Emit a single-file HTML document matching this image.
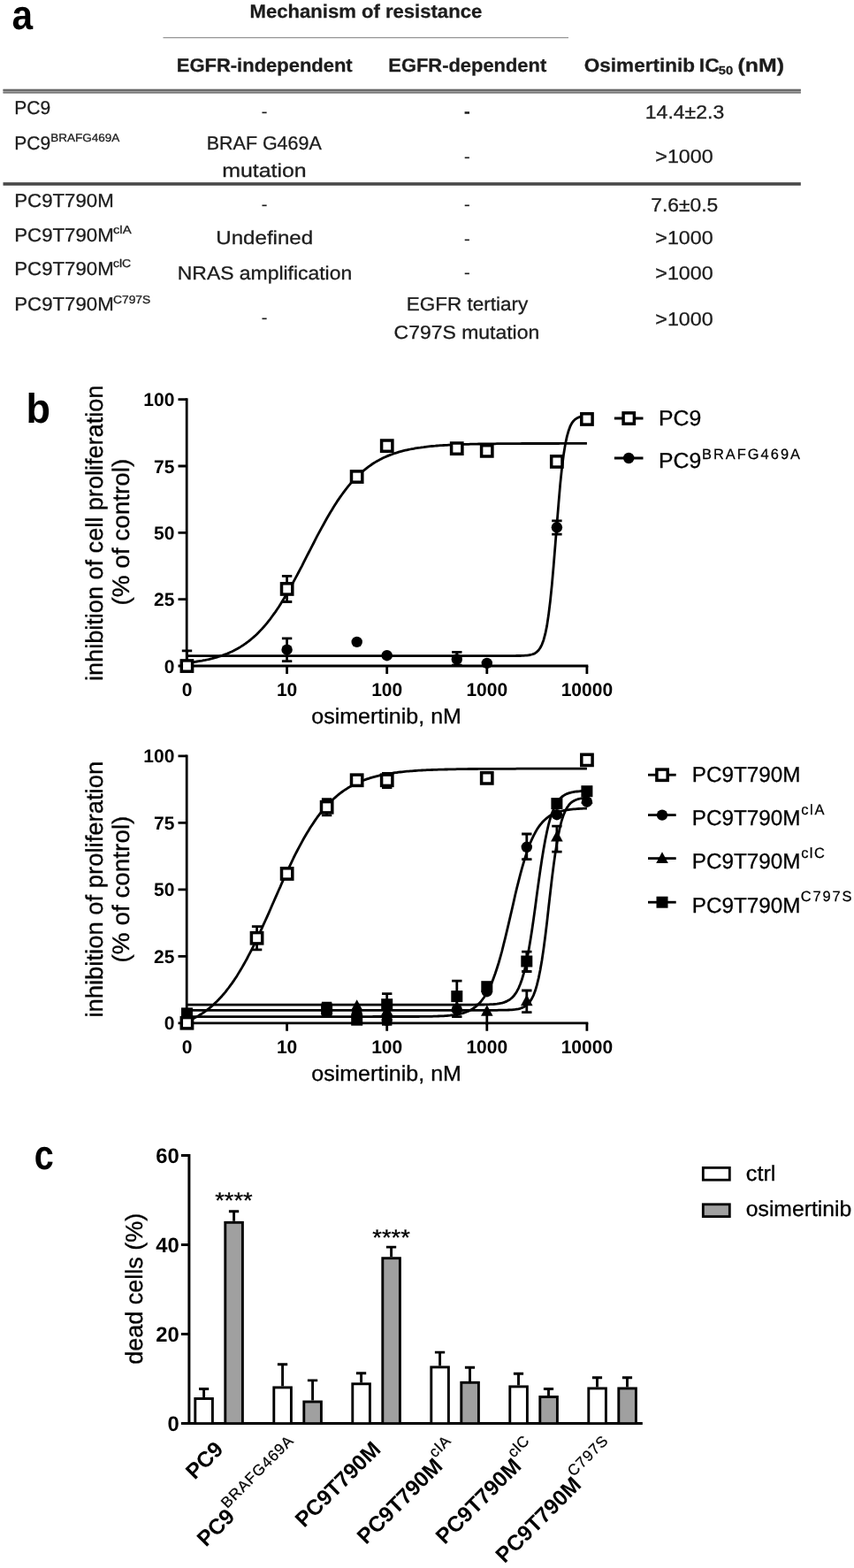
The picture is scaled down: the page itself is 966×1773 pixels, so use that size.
<!DOCTYPE html>
<html lang="en">
<head>
<meta charset="utf-8">
<title>Figure: mechanisms of osimertinib resistance</title>
<style>
html,body{margin:0;padding:0;background:#fff;}
body{width:966px;height:1773px;overflow:hidden;}
svg{display:block;}
svg text{font-family:"Liberation Sans",sans-serif;text-rendering:geometricPrecision;}
</style>
</head>
<body>
<svg width="966" height="1773" viewBox="0 0 966 1773">
<rect width="966" height="1773" fill="#fff"/>
<text x="13.60" y="33.00" font-size="47" font-weight="bold" textLength="23.60" lengthAdjust="spacingAndGlyphs">a</text>
<text x="29.60" y="477.60" font-size="47" font-weight="bold" textLength="27.50" lengthAdjust="spacingAndGlyphs">b</text>
<text x="38.80" y="1321.60" font-size="47" font-weight="bold" textLength="22.00" lengthAdjust="spacingAndGlyphs">c</text>
<g id="table" fill="#1c1c1c">
<rect x="184.5" y="42.1" width="458.5" height="1.1" fill="#8a8a8a"/>
<rect x="3.5" y="100.8" width="902.3" height="4.7" fill="#a8a8a8"/>
<rect x="3.5" y="100.8" width="902.3" height="2.1" fill="#666"/>
<rect x="3.5" y="103.9" width="902.3" height="1.6" fill="#777"/>
<rect x="3.5" y="206.2" width="902.3" height="3.6" fill="#484848"/>
<text x="282.55" y="19.50" font-size="21.3" font-weight="bold" stroke="#1c1c1c" stroke-width="0.3" textLength="262.65" lengthAdjust="spacingAndGlyphs" fill="#1c1c1c">Mechanism of resistance</text>
<text x="199.80" y="81.00" font-size="21.3" font-weight="bold" stroke="#1c1c1c" stroke-width="0.3" textLength="198.90" lengthAdjust="spacingAndGlyphs" fill="#1c1c1c">EGFR-independent</text>
<text x="439.30" y="81.00" font-size="21.3" font-weight="bold" stroke="#1c1c1c" stroke-width="0.3" textLength="178.90" lengthAdjust="spacingAndGlyphs" fill="#1c1c1c">EGFR-dependent</text>
<text x="660.80" y="81.30" font-size="21.3" font-weight="bold" stroke="#1c1c1c" stroke-width="0.3" textLength="125.20" lengthAdjust="spacingAndGlyphs" fill="#1c1c1c">Osimertinib</text>
<text x="790.80" y="81.30" font-size="21.3" font-weight="bold" stroke="#1c1c1c" stroke-width="0.3" textLength="22.80" lengthAdjust="spacingAndGlyphs" fill="#1c1c1c">IC</text>
<text x="812.80" y="83.60" font-size="13.2" font-weight="bold" stroke="#1c1c1c" stroke-width="0.25" textLength="16.40" lengthAdjust="spacingAndGlyphs" fill="#1c1c1c">50</text>
<text x="834.50" y="81.30" font-size="21.3" font-weight="bold" stroke="#1c1c1c" stroke-width="0.3" textLength="52.40" lengthAdjust="spacingAndGlyphs" fill="#1c1c1c">(nM)</text>
<text x="16.30" y="128.75" font-size="21.3" stroke="#1c1c1c" stroke-width="0.3" textLength="40.90" lengthAdjust="spacingAndGlyphs" fill="#1c1c1c">PC9</text>
<text x="16.30" y="168.75" font-size="21.3" stroke="#1c1c1c" stroke-width="0.3" textLength="40.90" lengthAdjust="spacingAndGlyphs" fill="#1c1c1c">PC9</text>
<text x="57.20" y="159.50" font-size="12.6" stroke="#1c1c1c" stroke-width="0.3" textLength="78.10" lengthAdjust="spacingAndGlyphs" fill="#1c1c1c">BRAFG469A</text>
<text x="16.30" y="233.75" font-size="21.3" stroke="#1c1c1c" stroke-width="0.3" textLength="112.40" lengthAdjust="spacingAndGlyphs" fill="#1c1c1c">PC9T790M</text>
<text x="16.30" y="272.50" font-size="21.3" stroke="#1c1c1c" stroke-width="0.3" textLength="112.40" lengthAdjust="spacingAndGlyphs" fill="#1c1c1c">PC9T790M</text>
<text x="16.30" y="310.75" font-size="21.3" stroke="#1c1c1c" stroke-width="0.3" textLength="112.40" lengthAdjust="spacingAndGlyphs" fill="#1c1c1c">PC9T790M</text>
<text x="16.30" y="351.25" font-size="21.3" stroke="#1c1c1c" stroke-width="0.3" textLength="112.40" lengthAdjust="spacingAndGlyphs" fill="#1c1c1c">PC9T790M</text>
<text x="127.90" y="263.75" font-size="12.6" stroke="#1c1c1c" stroke-width="0.3" textLength="20.70" lengthAdjust="spacingAndGlyphs" fill="#1c1c1c">clA</text>
<text x="127.90" y="302.00" font-size="12.6" stroke="#1c1c1c" stroke-width="0.3" textLength="20.20" lengthAdjust="spacingAndGlyphs" fill="#1c1c1c">clC</text>
<text x="127.95" y="342.50" font-size="12.6" stroke="#1c1c1c" stroke-width="0.3" textLength="42.35" lengthAdjust="spacingAndGlyphs" fill="#1c1c1c">C797S</text>
<text x="299.00" y="132.90" font-size="21.3" text-anchor="middle" fill="#1c1c1c">-</text>
<text x="233.80" y="168.75" font-size="21.3" stroke="#1c1c1c" stroke-width="0.3" textLength="129.90" lengthAdjust="spacingAndGlyphs" fill="#1c1c1c">BRAF G469A</text>
<text x="251.30" y="199.50" font-size="21.3" stroke="#1c1c1c" stroke-width="0.3" textLength="95.40" lengthAdjust="spacingAndGlyphs" fill="#1c1c1c">mutation</text>
<text x="299.00" y="237.90" font-size="21.3" text-anchor="middle" fill="#1c1c1c">-</text>
<text x="244.30" y="276.25" font-size="21.3" stroke="#1c1c1c" stroke-width="0.3" textLength="109.90" lengthAdjust="spacingAndGlyphs" fill="#1c1c1c">Undefined</text>
<text x="200.80" y="315.50" font-size="21.3" stroke="#1c1c1c" stroke-width="0.3" textLength="197.40" lengthAdjust="spacingAndGlyphs" fill="#1c1c1c">NRAS amplification</text>
<text x="299.00" y="366.40" font-size="21.3" text-anchor="middle" fill="#1c1c1c">-</text>
<text x="528.30" y="132.90" font-size="21.3" font-weight="bold" text-anchor="middle" fill="#1c1c1c">-</text>
<text x="528.30" y="183.65" font-size="21.3" text-anchor="middle" fill="#1c1c1c">-</text>
<text x="528.30" y="237.65" font-size="21.3" text-anchor="middle" fill="#1c1c1c">-</text>
<text x="528.30" y="276.90" font-size="21.3" text-anchor="middle" fill="#1c1c1c">-</text>
<text x="528.30" y="315.40" font-size="21.3" text-anchor="middle" fill="#1c1c1c">-</text>
<text x="459.80" y="351.25" font-size="21.3" stroke="#1c1c1c" stroke-width="0.3" textLength="137.40" lengthAdjust="spacingAndGlyphs" fill="#1c1c1c">EGFR tertiary</text>
<text x="445.55" y="382.50" font-size="21.3" stroke="#1c1c1c" stroke-width="0.3" textLength="164.65" lengthAdjust="spacingAndGlyphs" fill="#1c1c1c">C797S mutation</text>
<text x="729.80" y="133.75" font-size="21.3" stroke="#1c1c1c" stroke-width="0.3" textLength="89.40" lengthAdjust="spacingAndGlyphs" fill="#1c1c1c">14.4±2.3</text>
<text x="741.30" y="183.75" font-size="21.3" stroke="#1c1c1c" stroke-width="0.3" textLength="65.40" lengthAdjust="spacingAndGlyphs" fill="#1c1c1c">&gt;1000</text>
<text x="736.30" y="238.75" font-size="21.3" stroke="#1c1c1c" stroke-width="0.3" textLength="75.90" lengthAdjust="spacingAndGlyphs" fill="#1c1c1c">7.6±0.5</text>
<text x="741.30" y="276.25" font-size="21.3" stroke="#1c1c1c" stroke-width="0.3" textLength="65.40" lengthAdjust="spacingAndGlyphs" fill="#1c1c1c">&gt;1000</text>
<text x="741.30" y="315.50" font-size="21.3" stroke="#1c1c1c" stroke-width="0.3" textLength="65.40" lengthAdjust="spacingAndGlyphs" fill="#1c1c1c">&gt;1000</text>
<text x="741.30" y="367.50" font-size="21.3" stroke="#1c1c1c" stroke-width="0.3" textLength="65.40" lengthAdjust="spacingAndGlyphs" fill="#1c1c1c">&gt;1000</text>
</g>
<g id="chart1">
<path d="M211.2,450.3 V754.4 M211.2,753.0 H665.3" fill="none" stroke="#000" stroke-width="2.8"/>
<path d="M201.5,753.0 H211.2 M201.5,677.7 H211.2 M201.5,602.4 H211.2 M201.5,527.0 H211.2 M201.5,451.7 H211.2 M324.6,753.0 V762.0 M437.7,753.0 V762.0 M550.8,753.0 V762.0 M663.9,753.0 V762.0 " fill="none" stroke="#000" stroke-width="2.8"/>
<text x="197.40" y="760.50" font-size="21" font-weight="bold" text-anchor="end">0</text>
<text x="197.40" y="685.17" font-size="21" font-weight="bold" text-anchor="end">25</text>
<text x="197.40" y="609.85" font-size="21" font-weight="bold" text-anchor="end">50</text>
<text x="197.40" y="534.52" font-size="21" font-weight="bold" text-anchor="end">75</text>
<text x="197.40" y="459.20" font-size="21" font-weight="bold" text-anchor="end">100</text>
<text x="211.50" y="787.00" font-size="21" font-weight="bold" text-anchor="middle">0</text>
<text x="324.60" y="787.00" font-size="21" font-weight="bold" text-anchor="middle">10</text>
<text x="437.70" y="787.00" font-size="21" font-weight="bold" text-anchor="middle">100</text>
<text x="550.80" y="787.00" font-size="21" font-weight="bold" text-anchor="middle">1000</text>
<text x="663.90" y="787.00" font-size="21" font-weight="bold" text-anchor="middle">10000</text>
<text x="116.20" y="770.00" font-size="27" stroke="#000" stroke-width="0.35" textLength="334.40" lengthAdjust="spacingAndGlyphs" transform="rotate(-90 116.20 770.00)">inhibition of cell proliferation</text>
<text x="146.40" y="684.60" font-size="27" stroke="#000" stroke-width="0.35" textLength="165.80" lengthAdjust="spacingAndGlyphs" transform="rotate(-90 146.40 684.60)">(% of control)</text>
<text x="352.30" y="818.20" font-size="24.4" stroke="#000" stroke-width="0.3" textLength="169.60" lengthAdjust="spacingAndGlyphs">osimertinib, nM</text>
<path d="M211.5,749.5 L213.4,749.3 L215.3,749.0 L217.2,748.8 L219.0,748.6 L220.9,748.3 L222.8,748.0 L224.7,747.7 L226.6,747.4 L228.5,747.1 L230.3,746.7 L232.2,746.4 L234.1,746.0 L236.0,745.6 L237.9,745.1 L239.8,744.7 L241.7,744.2 L243.5,743.7 L245.4,743.1 L247.3,742.5 L249.2,741.9 L251.1,741.3 L253.0,740.6 L254.9,739.9 L256.7,739.2 L258.6,738.4 L260.5,737.5 L262.4,736.7 L264.3,735.8 L266.2,734.8 L268.1,733.8 L269.9,732.7 L271.8,731.6 L273.7,730.4 L275.6,729.2 L277.5,727.9 L279.4,726.5 L281.2,725.1 L283.1,723.6 L285.0,722.0 L286.9,720.4 L288.8,718.7 L290.7,716.9 L292.6,715.0 L294.4,713.1 L296.3,711.1 L298.2,709.0 L300.1,706.8 L302.0,704.6 L303.9,702.2 L305.8,699.8 L307.6,697.3 L309.5,694.7 L311.4,692.1 L313.3,689.3 L315.2,686.5 L317.1,683.5 L318.9,680.6 L320.8,677.5 L322.7,674.3 L324.6,671.1 L326.5,667.9 L328.4,664.5 L330.3,661.1 L332.1,657.7 L334.0,654.2 L335.9,650.6 L337.8,647.0 L339.7,643.4 L341.6,639.8 L343.4,636.1 L345.3,632.4 L347.2,628.7 L349.1,625.0 L351.0,621.3 L352.9,617.7 L354.8,614.0 L356.6,610.3 L358.5,606.7 L360.4,603.2 L362.3,599.6 L364.2,596.1 L366.1,592.7 L368.0,589.3 L369.8,586.0 L371.7,582.7 L373.6,579.5 L375.5,576.4 L377.4,573.3 L379.3,570.3 L381.1,567.4 L383.0,564.6 L384.9,561.9 L386.8,559.2 L388.7,556.6 L390.6,554.1 L392.5,551.7 L394.3,549.4 L396.2,547.2 L398.1,545.0 L400.0,542.9 L401.9,540.9 L403.8,539.0 L405.7,537.2 L407.5,535.4 L409.4,533.7 L411.3,532.1 L413.2,530.6 L415.1,529.1 L417.0,527.7 L418.9,526.3 L420.7,525.0 L422.6,523.8 L424.5,522.6 L426.4,521.5 L428.3,520.5 L430.2,519.4 L432.0,518.5 L433.9,517.6 L435.8,516.7 L437.7,515.9 L439.6,515.1 L441.5,514.4 L443.4,513.7 L445.2,513.0 L447.1,512.4 L449.0,511.8 L450.9,511.2 L452.8,510.7 L454.7,510.2 L456.5,509.7 L458.4,509.2 L460.3,508.8 L462.2,508.4 L464.1,508.0 L466.0,507.6 L467.9,507.3 L469.7,506.9 L471.6,506.6 L473.5,506.3 L475.4,506.1 L477.3,505.8 L479.2,505.6 L481.1,505.3 L482.9,505.1 L484.8,504.9 L486.7,504.7 L488.6,504.5 L490.5,504.3 L492.4,504.2 L494.2,504.0 L496.1,503.9 L498.0,503.7 L499.9,503.6 L501.8,503.5 L503.7,503.4 L505.6,503.3 L507.4,503.1 L509.3,503.1 L511.2,503.0 L513.1,502.9 L515.0,502.8 L516.9,502.7 L518.8,502.6 L520.6,502.6 L522.5,502.5 L524.4,502.4 L526.3,502.4 L528.2,502.3 L530.1,502.3 L532.0,502.2 L533.8,502.2 L535.7,502.1 L537.6,502.1 L539.5,502.1 L541.4,502.0 L543.3,502.0 L545.1,502.0 L547.0,501.9 L548.9,501.9 L550.8,501.9 L552.7,501.8 L554.6,501.8 L556.5,501.8 L558.3,501.8 L560.2,501.8 L562.1,501.7 L564.0,501.7 L565.9,501.7 L567.8,501.7 L569.6,501.7 L571.5,501.7 L573.4,501.6 L575.3,501.6 L577.2,501.6 L579.1,501.6 L581.0,501.6 L582.8,501.6 L584.7,501.6 L586.6,501.6 L588.5,501.6 L590.4,501.5 L592.3,501.5 L594.2,501.5 L596.0,501.5 L597.9,501.5 L599.8,501.5 L601.7,501.5 L603.6,501.5 L605.5,501.5 L607.3,501.5 L609.2,501.5 L611.1,501.5 L613.0,501.5 L614.9,501.5 L616.8,501.5 L618.7,501.5 L620.5,501.5 L622.4,501.5 L624.3,501.5 L626.2,501.5 L628.1,501.5 L630.0,501.5 L631.9,501.5 L633.7,501.4 L635.6,501.4 L637.5,501.4 L639.4,501.4 L641.3,501.4 L643.2,501.4 L645.0,501.4 L646.9,501.4 L648.8,501.4 L650.7,501.4 L652.6,501.4 L654.5,501.4 L656.4,501.4 L658.2,501.4 L660.1,501.4 L662.0,501.4 L663.9,501.4" fill="none" stroke="#000" stroke-width="2.8" stroke-linejoin="round"/>
<path d="M211.5,741.6 L213.4,741.6 L215.3,741.6 L217.2,741.6 L219.0,741.6 L220.9,741.6 L222.8,741.6 L224.7,741.6 L226.6,741.6 L228.5,741.6 L230.3,741.6 L232.2,741.6 L234.1,741.6 L236.0,741.6 L237.9,741.6 L239.8,741.6 L241.7,741.6 L243.5,741.6 L245.4,741.6 L247.3,741.6 L249.2,741.6 L251.1,741.6 L253.0,741.6 L254.9,741.6 L256.7,741.6 L258.6,741.6 L260.5,741.6 L262.4,741.6 L264.3,741.6 L266.2,741.6 L268.1,741.6 L269.9,741.6 L271.8,741.6 L273.7,741.6 L275.6,741.6 L277.5,741.6 L279.4,741.6 L281.2,741.6 L283.1,741.6 L285.0,741.6 L286.9,741.6 L288.8,741.6 L290.7,741.6 L292.6,741.6 L294.4,741.6 L296.3,741.6 L298.2,741.6 L300.1,741.6 L302.0,741.6 L303.9,741.6 L305.8,741.6 L307.6,741.6 L309.5,741.6 L311.4,741.6 L313.3,741.6 L315.2,741.6 L317.1,741.6 L318.9,741.6 L320.8,741.6 L322.7,741.6 L324.6,741.6 L326.5,741.6 L328.4,741.6 L330.3,741.6 L332.1,741.6 L334.0,741.6 L335.9,741.6 L337.8,741.6 L339.7,741.6 L341.6,741.6 L343.4,741.6 L345.3,741.6 L347.2,741.6 L349.1,741.6 L351.0,741.6 L352.9,741.6 L354.8,741.6 L356.6,741.6 L358.5,741.6 L360.4,741.6 L362.3,741.6 L364.2,741.6 L366.1,741.6 L368.0,741.6 L369.8,741.6 L371.7,741.6 L373.6,741.6 L375.5,741.6 L377.4,741.6 L379.3,741.6 L381.1,741.6 L383.0,741.6 L384.9,741.6 L386.8,741.6 L388.7,741.6 L390.6,741.6 L392.5,741.6 L394.3,741.6 L396.2,741.6 L398.1,741.6 L400.0,741.6 L401.9,741.6 L403.8,741.6 L405.7,741.6 L407.5,741.6 L409.4,741.6 L411.3,741.6 L413.2,741.6 L415.1,741.6 L417.0,741.6 L418.9,741.6 L420.7,741.6 L422.6,741.6 L424.5,741.6 L426.4,741.6 L428.3,741.6 L430.2,741.6 L432.0,741.6 L433.9,741.6 L435.8,741.6 L437.7,741.6 L439.6,741.6 L441.5,741.6 L443.4,741.6 L445.2,741.6 L447.1,741.6 L449.0,741.6 L450.9,741.6 L452.8,741.6 L454.7,741.6 L456.5,741.6 L458.4,741.6 L460.3,741.6 L462.2,741.6 L464.1,741.6 L466.0,741.6 L467.9,741.6 L469.7,741.6 L471.6,741.6 L473.5,741.6 L475.4,741.6 L477.3,741.6 L479.2,741.6 L481.1,741.6 L482.9,741.6 L484.8,741.6 L486.7,741.6 L488.6,741.6 L490.5,741.6 L492.4,741.6 L494.2,741.6 L496.1,741.6 L498.0,741.6 L499.9,741.6 L501.8,741.6 L503.7,741.6 L505.6,741.6 L507.4,741.6 L509.3,741.6 L511.2,741.6 L513.1,741.6 L515.0,741.6 L516.9,741.6 L518.8,741.6 L520.6,741.6 L522.5,741.6 L524.4,741.6 L526.3,741.6 L528.2,741.6 L530.1,741.6 L532.0,741.6 L533.8,741.6 L535.7,741.6 L537.6,741.6 L539.5,741.6 L541.4,741.6 L543.3,741.6 L545.1,741.6 L547.0,741.6 L548.9,741.6 L550.8,741.6 L552.7,741.6 L554.6,741.6 L556.5,741.6 L558.3,741.6 L560.2,741.6 L562.1,741.6 L564.0,741.6 L565.9,741.6 L567.8,741.6 L569.6,741.6 L571.5,741.6 L573.4,741.6 L575.3,741.6 L577.2,741.6 L579.1,741.6 L581.0,741.6 L582.8,741.6 L584.7,741.5 L586.6,741.5 L588.5,741.5 L590.4,741.4 L592.3,741.3 L594.2,741.2 L596.0,741.1 L597.9,740.8 L599.8,740.5 L601.7,740.0 L603.6,739.4 L605.5,738.4 L607.3,737.1 L609.2,735.2 L611.1,732.5 L613.0,728.8 L614.9,723.7 L616.8,716.7 L618.7,707.4 L620.5,695.3 L622.4,679.9 L624.3,661.3 L626.2,639.7 L628.1,616.2 L630.0,592.0 L631.9,568.6 L633.7,547.5 L635.6,529.2 L637.5,514.3 L639.4,502.6 L641.3,493.6 L643.2,486.9 L645.0,482.0 L646.9,478.4 L648.8,475.9 L650.7,474.1 L652.6,472.8 L654.5,471.9 L656.4,471.3 L658.2,470.8 L660.1,470.5 L662.0,470.3 L663.9,470.1" fill="none" stroke="#000" stroke-width="2.8" stroke-linejoin="round"/>
<path d="M211.5,735.8 V753.0 M205.8,735.8 H217.2" fill="none" stroke="#000" stroke-width="2.8"/>
<path d="M324.6,721.8 V747.7 M318.9,721.8 H330.3 M318.9,747.7 H330.3" fill="none" stroke="#000" stroke-width="2.8"/>
<path d="M516.8,737.3 V752.1 M511.1,737.3 H522.5 M511.1,752.1 H522.5" fill="none" stroke="#000" stroke-width="2.8"/>
<path d="M629.9,588.8 V604.2 M624.2,588.8 H635.6 M624.2,604.2 H635.6" fill="none" stroke="#000" stroke-width="2.8"/>
<circle cx="211.5" cy="753.0" r="6.2" fill="#000"/>
<circle cx="324.6" cy="734.7" r="6.2" fill="#000"/>
<circle cx="403.7" cy="725.9" r="6.2" fill="#000"/>
<circle cx="437.7" cy="741.2" r="6.2" fill="#000"/>
<circle cx="516.8" cy="745.5" r="6.2" fill="#000"/>
<circle cx="550.8" cy="749.9" r="6.2" fill="#000"/>
<circle cx="629.9" cy="596.3" r="6.2" fill="#000"/>
<path d="M324.6,651.3 V680.5 M318.9,651.3 H330.3 M318.9,680.5 H330.3" fill="none" stroke="#000" stroke-width="2.8"/>
<rect x="205.3" y="746.9" width="12.3" height="12.3" fill="#fff" stroke="#000" stroke-width="3.5"/>
<rect x="318.5" y="659.8" width="12.3" height="12.3" fill="#fff" stroke="#000" stroke-width="3.5"/>
<rect x="397.5" y="532.9" width="12.3" height="12.3" fill="#fff" stroke="#000" stroke-width="3.5"/>
<rect x="431.6" y="498.0" width="12.3" height="12.3" fill="#fff" stroke="#000" stroke-width="3.5"/>
<rect x="510.6" y="501.0" width="12.3" height="12.3" fill="#fff" stroke="#000" stroke-width="3.5"/>
<rect x="544.6" y="503.7" width="12.3" height="12.3" fill="#fff" stroke="#000" stroke-width="3.5"/>
<rect x="623.7" y="515.8" width="12.3" height="12.3" fill="#fff" stroke="#000" stroke-width="3.5"/>
<rect x="657.8" y="467.8" width="12.3" height="12.3" fill="#fff" stroke="#000" stroke-width="3.5"/>
<path d="M694.9,473.0 H727.5" stroke="#000" stroke-width="2.8"/>
<rect x="705.1" y="466.9" width="12.3" height="12.3" fill="#fff" stroke="#000" stroke-width="3.5"/>
<text x="745.00" y="480.60" font-size="24.4" stroke="#000" stroke-width="0.3" textLength="48.20" lengthAdjust="spacingAndGlyphs">PC9</text>
<path d="M694.9,518.0 H727.5" stroke="#000" stroke-width="2.8"/>
<circle cx="711.2" cy="518.0" r="6.2" fill="#000"/>
<text x="745.00" y="529.20" font-size="24.4" stroke="#000" stroke-width="0.3" textLength="48.20" lengthAdjust="spacingAndGlyphs">PC9</text>
<text x="794.00" y="518.80" font-size="16.4" stroke="#000" stroke-width="0.25" textLength="111.00" lengthAdjust="spacing">BRAFG469A</text>
</g>
<g id="chart2">
<path d="M211.2,853.4 V1158.2 M211.2,1156.8 H665.3" fill="none" stroke="#000" stroke-width="2.8"/>
<path d="M201.5,1156.8 H211.2 M201.5,1081.3 H211.2 M201.5,1005.8 H211.2 M201.5,930.3 H211.2 M201.5,854.8 H211.2 M324.6,1156.8 V1165.8 M437.7,1156.8 V1165.8 M550.8,1156.8 V1165.8 M663.9,1156.8 V1165.8 " fill="none" stroke="#000" stroke-width="2.8"/>
<text x="197.40" y="1164.30" font-size="21" font-weight="bold" text-anchor="end">0</text>
<text x="197.40" y="1088.80" font-size="21" font-weight="bold" text-anchor="end">25</text>
<text x="197.40" y="1013.30" font-size="21" font-weight="bold" text-anchor="end">50</text>
<text x="197.40" y="937.80" font-size="21" font-weight="bold" text-anchor="end">75</text>
<text x="197.40" y="862.30" font-size="21" font-weight="bold" text-anchor="end">100</text>
<text x="211.50" y="1190.80" font-size="21" font-weight="bold" text-anchor="middle">0</text>
<text x="324.60" y="1190.80" font-size="21" font-weight="bold" text-anchor="middle">10</text>
<text x="437.70" y="1190.80" font-size="21" font-weight="bold" text-anchor="middle">100</text>
<text x="550.80" y="1190.80" font-size="21" font-weight="bold" text-anchor="middle">1000</text>
<text x="663.90" y="1190.80" font-size="21" font-weight="bold" text-anchor="middle">10000</text>
<text x="116.20" y="1150.60" font-size="27" stroke="#000" stroke-width="0.35" textLength="289.80" lengthAdjust="spacingAndGlyphs" transform="rotate(-90 116.20 1150.60)">inhibition of proliferation</text>
<text x="146.40" y="1088.40" font-size="27" stroke="#000" stroke-width="0.35" textLength="165.80" lengthAdjust="spacingAndGlyphs" transform="rotate(-90 146.40 1088.40)">(% of control)</text>
<text x="352.30" y="1222.00" font-size="24.4" stroke="#000" stroke-width="0.3" textLength="169.60" lengthAdjust="spacingAndGlyphs">osimertinib, nM</text>
<path d="M211.5,1155.1 L213.4,1154.3 L215.3,1153.4 L217.2,1152.5 L219.0,1151.6 L220.9,1150.6 L222.8,1149.6 L224.7,1148.5 L226.6,1147.3 L228.5,1146.1 L230.3,1144.8 L232.2,1143.5 L234.1,1142.1 L236.0,1140.6 L237.9,1139.1 L239.8,1137.5 L241.7,1135.8 L243.5,1134.0 L245.4,1132.2 L247.3,1130.3 L249.2,1128.3 L251.1,1126.2 L253.0,1124.0 L254.9,1121.8 L256.7,1119.4 L258.6,1117.0 L260.5,1114.4 L262.4,1111.8 L264.3,1109.1 L266.2,1106.3 L268.1,1103.4 L269.9,1100.4 L271.8,1097.3 L273.7,1094.1 L275.6,1090.8 L277.5,1087.4 L279.4,1084.0 L281.2,1080.4 L283.1,1076.8 L285.0,1073.1 L286.9,1069.3 L288.8,1065.4 L290.7,1061.5 L292.6,1057.5 L294.4,1053.5 L296.3,1049.4 L298.2,1045.2 L300.1,1041.0 L302.0,1036.8 L303.9,1032.6 L305.8,1028.3 L307.6,1024.0 L309.5,1019.7 L311.4,1015.4 L313.3,1011.1 L315.2,1006.8 L317.1,1002.6 L318.9,998.3 L320.8,994.2 L322.7,990.0 L324.6,985.9 L326.5,981.8 L328.4,977.8 L330.3,973.9 L332.1,970.0 L334.0,966.2 L335.9,962.5 L337.8,958.9 L339.7,955.3 L341.6,951.8 L343.4,948.5 L345.3,945.2 L347.2,942.0 L349.1,938.9 L351.0,935.8 L352.9,932.9 L354.8,930.1 L356.6,927.4 L358.5,924.7 L360.4,922.2 L362.3,919.7 L364.2,917.4 L366.1,915.1 L368.0,912.9 L369.8,910.8 L371.7,908.8 L373.6,906.9 L375.5,905.0 L377.4,903.3 L379.3,901.6 L381.1,900.0 L383.0,898.4 L384.9,896.9 L386.8,895.5 L388.7,894.2 L390.6,892.9 L392.5,891.7 L394.3,890.5 L396.2,889.4 L398.1,888.4 L400.0,887.4 L401.9,886.4 L403.8,885.5 L405.7,884.6 L407.5,883.8 L409.4,883.0 L411.3,882.3 L413.2,881.6 L415.1,880.9 L417.0,880.3 L418.9,879.7 L420.7,879.1 L422.6,878.6 L424.5,878.1 L426.4,877.6 L428.3,877.2 L430.2,876.7 L432.0,876.3 L433.9,875.9 L435.8,875.6 L437.7,875.2 L439.6,874.9 L441.5,874.6 L443.4,874.3 L445.2,874.0 L447.1,873.7 L449.0,873.5 L450.9,873.2 L452.8,873.0 L454.7,872.8 L456.5,872.6 L458.4,872.4 L460.3,872.2 L462.2,872.1 L464.1,871.9 L466.0,871.8 L467.9,871.6 L469.7,871.5 L471.6,871.4 L473.5,871.2 L475.4,871.1 L477.3,871.0 L479.2,870.9 L481.1,870.8 L482.9,870.7 L484.8,870.6 L486.7,870.6 L488.6,870.5 L490.5,870.4 L492.4,870.3 L494.2,870.3 L496.1,870.2 L498.0,870.2 L499.9,870.1 L501.8,870.1 L503.7,870.0 L505.6,870.0 L507.4,869.9 L509.3,869.9 L511.2,869.8 L513.1,869.8 L515.0,869.8 L516.9,869.7 L518.8,869.7 L520.6,869.7 L522.5,869.6 L524.4,869.6 L526.3,869.6 L528.2,869.6 L530.1,869.5 L532.0,869.5 L533.8,869.5 L535.7,869.5 L537.6,869.5 L539.5,869.5 L541.4,869.4 L543.3,869.4 L545.1,869.4 L547.0,869.4 L548.9,869.4 L550.8,869.4 L552.7,869.4 L554.6,869.4 L556.5,869.3 L558.3,869.3 L560.2,869.3 L562.1,869.3 L564.0,869.3 L565.9,869.3 L567.8,869.3 L569.6,869.3 L571.5,869.3 L573.4,869.3 L575.3,869.3 L577.2,869.3 L579.1,869.3 L581.0,869.3 L582.8,869.3 L584.7,869.2 L586.6,869.2 L588.5,869.2 L590.4,869.2 L592.3,869.2 L594.2,869.2 L596.0,869.2 L597.9,869.2 L599.8,869.2 L601.7,869.2 L603.6,869.2 L605.5,869.2 L607.3,869.2 L609.2,869.2 L611.1,869.2 L613.0,869.2 L614.9,869.2 L616.8,869.2 L618.7,869.2 L620.5,869.2 L622.4,869.2 L624.3,869.2 L626.2,869.2 L628.1,869.2 L630.0,869.2 L631.9,869.2 L633.7,869.2 L635.6,869.2 L637.5,869.2 L639.4,869.2 L641.3,869.2 L643.2,869.2 L645.0,869.2 L646.9,869.2 L648.8,869.2 L650.7,869.2 L652.6,869.2 L654.5,869.2 L656.4,869.2 L658.2,869.2 L660.1,869.2 L662.0,869.2 L663.9,869.2" fill="none" stroke="#000" stroke-width="2.8" stroke-linejoin="round"/>
<path d="M211.5,1149.6 L213.4,1149.6 L215.3,1149.6 L217.2,1149.6 L219.0,1149.6 L220.9,1149.6 L222.8,1149.6 L224.7,1149.6 L226.6,1149.6 L228.5,1149.6 L230.3,1149.6 L232.2,1149.6 L234.1,1149.6 L236.0,1149.6 L237.9,1149.6 L239.8,1149.6 L241.7,1149.6 L243.5,1149.6 L245.4,1149.6 L247.3,1149.6 L249.2,1149.6 L251.1,1149.6 L253.0,1149.6 L254.9,1149.6 L256.7,1149.6 L258.6,1149.6 L260.5,1149.6 L262.4,1149.6 L264.3,1149.6 L266.2,1149.6 L268.1,1149.6 L269.9,1149.6 L271.8,1149.6 L273.7,1149.6 L275.6,1149.6 L277.5,1149.6 L279.4,1149.6 L281.2,1149.6 L283.1,1149.6 L285.0,1149.6 L286.9,1149.6 L288.8,1149.6 L290.7,1149.6 L292.6,1149.6 L294.4,1149.6 L296.3,1149.6 L298.2,1149.6 L300.1,1149.6 L302.0,1149.6 L303.9,1149.6 L305.8,1149.6 L307.6,1149.6 L309.5,1149.6 L311.4,1149.6 L313.3,1149.6 L315.2,1149.6 L317.1,1149.6 L318.9,1149.6 L320.8,1149.6 L322.7,1149.6 L324.6,1149.6 L326.5,1149.6 L328.4,1149.6 L330.3,1149.6 L332.1,1149.6 L334.0,1149.6 L335.9,1149.6 L337.8,1149.6 L339.7,1149.6 L341.6,1149.6 L343.4,1149.6 L345.3,1149.6 L347.2,1149.6 L349.1,1149.6 L351.0,1149.6 L352.9,1149.6 L354.8,1149.6 L356.6,1149.6 L358.5,1149.6 L360.4,1149.6 L362.3,1149.6 L364.2,1149.6 L366.1,1149.6 L368.0,1149.6 L369.8,1149.6 L371.7,1149.6 L373.6,1149.6 L375.5,1149.6 L377.4,1149.6 L379.3,1149.6 L381.1,1149.6 L383.0,1149.6 L384.9,1149.6 L386.8,1149.6 L388.7,1149.6 L390.6,1149.6 L392.5,1149.6 L394.3,1149.6 L396.2,1149.6 L398.1,1149.6 L400.0,1149.6 L401.9,1149.6 L403.8,1149.6 L405.7,1149.6 L407.5,1149.6 L409.4,1149.6 L411.3,1149.6 L413.2,1149.6 L415.1,1149.6 L417.0,1149.6 L418.9,1149.6 L420.7,1149.6 L422.6,1149.5 L424.5,1149.5 L426.4,1149.5 L428.3,1149.5 L430.2,1149.5 L432.0,1149.5 L433.9,1149.5 L435.8,1149.5 L437.7,1149.5 L439.6,1149.5 L441.5,1149.5 L443.4,1149.5 L445.2,1149.5 L447.1,1149.5 L449.0,1149.5 L450.9,1149.5 L452.8,1149.5 L454.7,1149.5 L456.5,1149.5 L458.4,1149.5 L460.3,1149.5 L462.2,1149.5 L464.1,1149.5 L466.0,1149.5 L467.9,1149.5 L469.7,1149.5 L471.6,1149.5 L473.5,1149.5 L475.4,1149.4 L477.3,1149.4 L479.2,1149.4 L481.1,1149.4 L482.9,1149.4 L484.8,1149.3 L486.7,1149.3 L488.6,1149.3 L490.5,1149.2 L492.4,1149.2 L494.2,1149.1 L496.1,1149.0 L498.0,1148.9 L499.9,1148.9 L501.8,1148.8 L503.7,1148.6 L505.6,1148.5 L507.4,1148.3 L509.3,1148.2 L511.2,1147.9 L513.1,1147.7 L515.0,1147.4 L516.9,1147.1 L518.8,1146.8 L520.6,1146.3 L522.5,1145.9 L524.4,1145.3 L526.3,1144.7 L528.2,1144.0 L530.1,1143.2 L532.0,1142.2 L533.8,1141.2 L535.7,1140.0 L537.6,1138.6 L539.5,1137.1 L541.4,1135.3 L543.3,1133.3 L545.1,1131.0 L547.0,1128.5 L548.9,1125.7 L550.8,1122.5 L552.7,1118.9 L554.6,1115.0 L556.5,1110.7 L558.3,1105.9 L560.2,1100.7 L562.1,1095.0 L564.0,1089.0 L565.9,1082.4 L567.8,1075.5 L569.6,1068.2 L571.5,1060.6 L573.4,1052.7 L575.3,1044.6 L577.2,1036.4 L579.1,1028.2 L581.0,1019.9 L582.8,1011.8 L584.7,1003.9 L586.6,996.3 L588.5,988.9 L590.4,981.9 L592.3,975.3 L594.2,969.2 L596.0,963.4 L597.9,958.2 L599.8,953.3 L601.7,948.9 L603.6,944.9 L605.5,941.3 L607.3,938.1 L609.2,935.2 L611.1,932.6 L613.0,930.3 L614.9,928.3 L616.8,926.5 L618.7,924.9 L620.5,923.5 L622.4,922.2 L624.3,921.2 L626.2,920.2 L628.1,919.4 L630.0,918.7 L631.9,918.0 L633.7,917.5 L635.6,917.0 L637.5,916.5 L639.4,916.2 L641.3,915.9 L643.2,915.6 L645.0,915.3 L646.9,915.1 L648.8,914.9 L650.7,914.8 L652.6,914.6 L654.5,914.5 L656.4,914.4 L658.2,914.3 L660.1,914.2 L662.0,914.2 L663.9,914.1" fill="none" stroke="#000" stroke-width="2.8" stroke-linejoin="round"/>
<path d="M211.5,1142.3 L213.4,1142.3 L215.3,1142.3 L217.2,1142.3 L219.0,1142.3 L220.9,1142.3 L222.8,1142.3 L224.7,1142.3 L226.6,1142.3 L228.5,1142.3 L230.3,1142.3 L232.2,1142.3 L234.1,1142.3 L236.0,1142.3 L237.9,1142.3 L239.8,1142.3 L241.7,1142.3 L243.5,1142.3 L245.4,1142.3 L247.3,1142.3 L249.2,1142.3 L251.1,1142.3 L253.0,1142.3 L254.9,1142.3 L256.7,1142.3 L258.6,1142.3 L260.5,1142.3 L262.4,1142.3 L264.3,1142.3 L266.2,1142.3 L268.1,1142.3 L269.9,1142.3 L271.8,1142.3 L273.7,1142.3 L275.6,1142.3 L277.5,1142.3 L279.4,1142.3 L281.2,1142.3 L283.1,1142.3 L285.0,1142.3 L286.9,1142.3 L288.8,1142.3 L290.7,1142.3 L292.6,1142.3 L294.4,1142.3 L296.3,1142.3 L298.2,1142.3 L300.1,1142.3 L302.0,1142.3 L303.9,1142.3 L305.8,1142.3 L307.6,1142.3 L309.5,1142.3 L311.4,1142.3 L313.3,1142.3 L315.2,1142.3 L317.1,1142.3 L318.9,1142.3 L320.8,1142.3 L322.7,1142.3 L324.6,1142.3 L326.5,1142.3 L328.4,1142.3 L330.3,1142.3 L332.1,1142.3 L334.0,1142.3 L335.9,1142.3 L337.8,1142.3 L339.7,1142.3 L341.6,1142.3 L343.4,1142.3 L345.3,1142.3 L347.2,1142.3 L349.1,1142.3 L351.0,1142.3 L352.9,1142.3 L354.8,1142.3 L356.6,1142.3 L358.5,1142.3 L360.4,1142.3 L362.3,1142.3 L364.2,1142.3 L366.1,1142.3 L368.0,1142.3 L369.8,1142.3 L371.7,1142.3 L373.6,1142.3 L375.5,1142.3 L377.4,1142.3 L379.3,1142.3 L381.1,1142.3 L383.0,1142.3 L384.9,1142.3 L386.8,1142.3 L388.7,1142.3 L390.6,1142.3 L392.5,1142.3 L394.3,1142.3 L396.2,1142.3 L398.1,1142.3 L400.0,1142.3 L401.9,1142.3 L403.8,1142.3 L405.7,1142.3 L407.5,1142.3 L409.4,1142.3 L411.3,1142.3 L413.2,1142.3 L415.1,1142.3 L417.0,1142.3 L418.9,1142.3 L420.7,1142.3 L422.6,1142.3 L424.5,1142.3 L426.4,1142.3 L428.3,1142.3 L430.2,1142.3 L432.0,1142.3 L433.9,1142.3 L435.8,1142.3 L437.7,1142.3 L439.6,1142.3 L441.5,1142.3 L443.4,1142.3 L445.2,1142.3 L447.1,1142.3 L449.0,1142.3 L450.9,1142.3 L452.8,1142.3 L454.7,1142.3 L456.5,1142.3 L458.4,1142.3 L460.3,1142.3 L462.2,1142.3 L464.1,1142.3 L466.0,1142.3 L467.9,1142.3 L469.7,1142.3 L471.6,1142.3 L473.5,1142.3 L475.4,1142.3 L477.3,1142.3 L479.2,1142.3 L481.1,1142.3 L482.9,1142.3 L484.8,1142.3 L486.7,1142.3 L488.6,1142.3 L490.5,1142.3 L492.4,1142.3 L494.2,1142.3 L496.1,1142.3 L498.0,1142.3 L499.9,1142.3 L501.8,1142.3 L503.7,1142.3 L505.6,1142.3 L507.4,1142.3 L509.3,1142.3 L511.2,1142.3 L513.1,1142.3 L515.0,1142.3 L516.9,1142.3 L518.8,1142.3 L520.6,1142.3 L522.5,1142.3 L524.4,1142.3 L526.3,1142.3 L528.2,1142.3 L530.1,1142.3 L532.0,1142.3 L533.8,1142.3 L535.7,1142.3 L537.6,1142.3 L539.5,1142.3 L541.4,1142.3 L543.3,1142.3 L545.1,1142.3 L547.0,1142.3 L548.9,1142.3 L550.8,1142.3 L552.7,1142.3 L554.6,1142.3 L556.5,1142.3 L558.3,1142.3 L560.2,1142.3 L562.1,1142.3 L564.0,1142.2 L565.9,1142.2 L567.8,1142.2 L569.6,1142.2 L571.5,1142.1 L573.4,1142.1 L575.3,1142.0 L577.2,1141.9 L579.1,1141.8 L581.0,1141.6 L582.8,1141.4 L584.7,1141.1 L586.6,1140.8 L588.5,1140.3 L590.4,1139.6 L592.3,1138.8 L594.2,1137.7 L596.0,1136.3 L597.9,1134.5 L599.8,1132.1 L601.7,1129.0 L603.6,1125.1 L605.5,1120.1 L607.3,1113.8 L609.2,1106.1 L611.1,1096.8 L613.0,1085.7 L614.9,1072.9 L616.8,1058.5 L618.7,1042.9 L620.5,1026.5 L622.4,1009.9 L624.3,993.7 L626.2,978.6 L628.1,964.9 L630.0,952.9 L631.9,942.6 L633.7,934.0 L635.6,927.0 L637.5,921.4 L639.4,916.9 L641.3,913.4 L643.2,910.7 L645.0,908.5 L646.9,906.9 L648.8,905.7 L650.7,904.7 L652.6,904.0 L654.5,903.4 L656.4,903.0 L658.2,902.6 L660.1,902.4 L662.0,902.2 L663.9,902.1" fill="none" stroke="#000" stroke-width="2.8" stroke-linejoin="round"/>
<path d="M211.5,1136.1 L213.4,1136.1 L215.3,1136.1 L217.2,1136.1 L219.0,1136.1 L220.9,1136.1 L222.8,1136.1 L224.7,1136.1 L226.6,1136.1 L228.5,1136.1 L230.3,1136.1 L232.2,1136.1 L234.1,1136.1 L236.0,1136.1 L237.9,1136.1 L239.8,1136.1 L241.7,1136.1 L243.5,1136.1 L245.4,1136.1 L247.3,1136.1 L249.2,1136.1 L251.1,1136.1 L253.0,1136.1 L254.9,1136.1 L256.7,1136.1 L258.6,1136.1 L260.5,1136.1 L262.4,1136.1 L264.3,1136.1 L266.2,1136.1 L268.1,1136.1 L269.9,1136.1 L271.8,1136.1 L273.7,1136.1 L275.6,1136.1 L277.5,1136.1 L279.4,1136.1 L281.2,1136.1 L283.1,1136.1 L285.0,1136.1 L286.9,1136.1 L288.8,1136.1 L290.7,1136.1 L292.6,1136.1 L294.4,1136.1 L296.3,1136.1 L298.2,1136.1 L300.1,1136.1 L302.0,1136.1 L303.9,1136.1 L305.8,1136.1 L307.6,1136.1 L309.5,1136.1 L311.4,1136.1 L313.3,1136.1 L315.2,1136.1 L317.1,1136.1 L318.9,1136.1 L320.8,1136.1 L322.7,1136.1 L324.6,1136.1 L326.5,1136.1 L328.4,1136.1 L330.3,1136.1 L332.1,1136.1 L334.0,1136.1 L335.9,1136.1 L337.8,1136.1 L339.7,1136.1 L341.6,1136.1 L343.4,1136.1 L345.3,1136.1 L347.2,1136.1 L349.1,1136.1 L351.0,1136.1 L352.9,1136.1 L354.8,1136.1 L356.6,1136.1 L358.5,1136.1 L360.4,1136.1 L362.3,1136.1 L364.2,1136.1 L366.1,1136.1 L368.0,1136.1 L369.8,1136.1 L371.7,1136.1 L373.6,1136.1 L375.5,1136.1 L377.4,1136.1 L379.3,1136.1 L381.1,1136.1 L383.0,1136.1 L384.9,1136.1 L386.8,1136.1 L388.7,1136.1 L390.6,1136.1 L392.5,1136.1 L394.3,1136.1 L396.2,1136.1 L398.1,1136.1 L400.0,1136.1 L401.9,1136.1 L403.8,1136.1 L405.7,1136.1 L407.5,1136.1 L409.4,1136.1 L411.3,1136.1 L413.2,1136.1 L415.1,1136.1 L417.0,1136.1 L418.9,1136.1 L420.7,1136.1 L422.6,1136.1 L424.5,1136.1 L426.4,1136.1 L428.3,1136.1 L430.2,1136.1 L432.0,1136.1 L433.9,1136.1 L435.8,1136.1 L437.7,1136.1 L439.6,1136.1 L441.5,1136.1 L443.4,1136.1 L445.2,1136.1 L447.1,1136.1 L449.0,1136.1 L450.9,1136.1 L452.8,1136.1 L454.7,1136.1 L456.5,1136.1 L458.4,1136.1 L460.3,1136.1 L462.2,1136.1 L464.1,1136.1 L466.0,1136.1 L467.9,1136.1 L469.7,1136.1 L471.6,1136.1 L473.5,1136.1 L475.4,1136.1 L477.3,1136.1 L479.2,1136.1 L481.1,1136.1 L482.9,1136.1 L484.8,1136.1 L486.7,1136.1 L488.6,1136.1 L490.5,1136.1 L492.4,1136.1 L494.2,1136.1 L496.1,1136.1 L498.0,1136.1 L499.9,1136.1 L501.8,1136.1 L503.7,1136.1 L505.6,1136.1 L507.4,1136.1 L509.3,1136.1 L511.2,1136.1 L513.1,1136.1 L515.0,1136.1 L516.9,1136.1 L518.8,1136.1 L520.6,1136.1 L522.5,1136.1 L524.4,1136.1 L526.3,1136.1 L528.2,1136.1 L530.1,1136.1 L532.0,1136.1 L533.8,1136.1 L535.7,1136.1 L537.6,1136.1 L539.5,1136.0 L541.4,1136.0 L543.3,1136.0 L545.1,1136.0 L547.0,1136.0 L548.9,1135.9 L550.8,1135.9 L552.7,1135.8 L554.6,1135.7 L556.5,1135.6 L558.3,1135.5 L560.2,1135.3 L562.1,1135.1 L564.0,1134.8 L565.9,1134.5 L567.8,1134.1 L569.6,1133.6 L571.5,1132.9 L573.4,1132.1 L575.3,1131.1 L577.2,1129.8 L579.1,1128.2 L581.0,1126.3 L582.8,1123.9 L584.7,1120.9 L586.6,1117.3 L588.5,1112.8 L590.4,1107.5 L592.3,1101.2 L594.2,1093.7 L596.0,1085.1 L597.9,1075.2 L599.8,1064.1 L601.7,1052.0 L603.6,1038.9 L605.5,1025.3 L607.3,1011.4 L609.2,997.6 L611.1,984.2 L613.0,971.6 L614.9,960.0 L616.8,949.5 L618.7,940.3 L620.5,932.3 L622.4,925.5 L624.3,919.7 L626.2,914.9 L628.1,910.9 L630.0,907.6 L631.9,905.0 L633.7,902.8 L635.6,901.0 L637.5,899.6 L639.4,898.5 L641.3,897.6 L643.2,896.9 L645.0,896.3 L646.9,895.9 L648.8,895.5 L650.7,895.2 L652.6,895.0 L654.5,894.8 L656.4,894.6 L658.2,894.5 L660.1,894.4 L662.0,894.3 L663.9,894.3" fill="none" stroke="#000" stroke-width="2.8" stroke-linejoin="round"/>
<path d="M595.8,943.0 V971.7 M590.1,943.0 H601.5 M590.1,971.7 H601.5" fill="none" stroke="#000" stroke-width="2.8"/>
<circle cx="211.5" cy="1153.8" r="6.2" fill="#000"/>
<circle cx="403.7" cy="1146.5" r="6.2" fill="#000"/>
<circle cx="437.7" cy="1153.8" r="6.2" fill="#000"/>
<circle cx="516.8" cy="1141.7" r="6.2" fill="#000"/>
<circle cx="550.8" cy="1121.2" r="6.2" fill="#000"/>
<circle cx="595.8" cy="957.8" r="6.2" fill="#000"/>
<circle cx="629.9" cy="921.2" r="6.2" fill="#000"/>
<circle cx="663.9" cy="906.7" r="6.2" fill="#000"/>
<path d="M550.8,1143.5 V1158.6 M550.8,1158.6 H550.8" fill="none" stroke="#000" stroke-width="2.8"/>
<path d="M595.8,1120.0 V1144.7 M590.1,1120.0 H601.5 M590.1,1144.7 H601.5" fill="none" stroke="#000" stroke-width="2.8"/>
<path d="M629.9,934.2 V963.2 M624.2,934.2 H635.6 M624.2,963.2 H635.6" fill="none" stroke="#000" stroke-width="2.8"/>
<path d="M437.7,1144.7 V1158.3 M432.0,1158.3 H443.4" fill="none" stroke="#000" stroke-width="2.8"/>
<path d="M403.7,1130.2 L410.5,1142.7 H396.9 Z" fill="#000"/>
<path d="M437.7,1136.0 L444.5,1148.5 H430.9 Z" fill="#000"/>
<path d="M516.8,1131.4 L523.6,1143.9 H510.0 Z" fill="#000"/>
<path d="M550.8,1136.3 L557.6,1148.8 H544.0 Z" fill="#000"/>
<path d="M595.8,1124.8 L602.6,1137.3 H589.0 Z" fill="#000"/>
<path d="M629.9,939.0 L636.7,951.6 H623.1 Z" fill="#000"/>
<path d="M663.9,895.9 L670.7,908.4 H657.1 Z" fill="#000"/>
<path d="M369.6,1134.1 V1148.0 M363.9,1134.1 H375.3 M363.9,1148.0 H375.3" fill="none" stroke="#000" stroke-width="2.8"/>
<path d="M437.7,1123.6 V1135.7 M432.0,1123.6 H443.4" fill="none" stroke="#000" stroke-width="2.8"/>
<path d="M516.8,1109.1 V1149.6 M511.1,1109.1 H522.5 M511.1,1149.6 H522.5" fill="none" stroke="#000" stroke-width="2.8"/>
<path d="M595.8,1076.2 V1098.5 M590.1,1076.2 H601.5 M590.1,1098.5 H601.5" fill="none" stroke="#000" stroke-width="2.8"/>
<rect x="205.0" y="1139.4" width="13.0" height="13.0" fill="#000"/>
<rect x="363.1" y="1134.6" width="13.0" height="13.0" fill="#000"/>
<rect x="397.2" y="1146.7" width="13.0" height="13.0" fill="#000"/>
<rect x="431.2" y="1129.2" width="13.0" height="13.0" fill="#000"/>
<rect x="510.3" y="1120.1" width="13.0" height="13.0" fill="#000"/>
<rect x="544.3" y="1109.2" width="13.0" height="13.0" fill="#000"/>
<rect x="589.3" y="1080.5" width="13.0" height="13.0" fill="#000"/>
<rect x="623.4" y="902.1" width="13.0" height="13.0" fill="#000"/>
<rect x="657.4" y="888.2" width="13.0" height="13.0" fill="#000"/>
<path d="M290.6,1047.6 V1073.9 M284.9,1047.6 H296.3 M284.9,1073.9 H296.3" fill="none" stroke="#000" stroke-width="2.8"/>
<path d="M369.6,903.7 V921.8 M363.9,903.7 H375.3 M363.9,921.8 H375.3" fill="none" stroke="#000" stroke-width="2.8"/>
<path d="M437.7,874.4 V890.7 M432.0,874.4 H443.4 M432.0,890.7 H443.4" fill="none" stroke="#000" stroke-width="2.8"/>
<rect x="205.3" y="1150.6" width="12.3" height="12.3" fill="#fff" stroke="#000" stroke-width="3.5"/>
<rect x="284.4" y="1054.6" width="12.3" height="12.3" fill="#fff" stroke="#000" stroke-width="3.5"/>
<rect x="318.5" y="981.8" width="12.3" height="12.3" fill="#fff" stroke="#000" stroke-width="3.5"/>
<rect x="363.5" y="906.6" width="12.3" height="12.3" fill="#fff" stroke="#000" stroke-width="3.5"/>
<rect x="397.5" y="876.1" width="12.3" height="12.3" fill="#fff" stroke="#000" stroke-width="3.5"/>
<rect x="431.6" y="876.1" width="12.3" height="12.3" fill="#fff" stroke="#000" stroke-width="3.5"/>
<rect x="544.6" y="873.7" width="12.3" height="12.3" fill="#fff" stroke="#000" stroke-width="3.5"/>
<rect x="657.8" y="853.2" width="12.3" height="12.3" fill="#fff" stroke="#000" stroke-width="3.5"/>
<path d="M733.0,876.2 H764.7" stroke="#000" stroke-width="2.8"/>
<rect x="742.9" y="870.1" width="12.3" height="12.3" fill="#fff" stroke="#000" stroke-width="3.5"/>
<text x="782.80" y="883.60" font-size="24.4" stroke="#000" stroke-width="0.3" textLength="122.60" lengthAdjust="spacingAndGlyphs">PC9T790M</text>
<path d="M733.0,921.6 H764.7" stroke="#000" stroke-width="2.8"/>
<circle cx="749.0" cy="921.6" r="6.2" fill="#000"/>
<text x="782.80" y="932.60" font-size="24.4" stroke="#000" stroke-width="0.3" textLength="122.60" lengthAdjust="spacingAndGlyphs">PC9T790M</text>
<text x="906.20" y="920.80" font-size="16.4" stroke="#000" stroke-width="0.25" textLength="26.20" lengthAdjust="spacing">clA</text>
<path d="M733.0,970.6 H764.7" stroke="#000" stroke-width="2.8"/>
<path d="M749.0,963.3 L755.8,975.9 H742.2 Z" fill="#000"/>
<text x="782.80" y="981.60" font-size="24.4" stroke="#000" stroke-width="0.3" textLength="122.60" lengthAdjust="spacingAndGlyphs">PC9T790M</text>
<text x="906.20" y="969.80" font-size="16.4" stroke="#000" stroke-width="0.25" textLength="26.60" lengthAdjust="spacing">clC</text>
<path d="M733.0,1020.2 H764.7" stroke="#000" stroke-width="2.8"/>
<rect x="742.5" y="1013.7" width="13.0" height="13.0" fill="#000"/>
<text x="782.80" y="1031.70" font-size="24.4" stroke="#000" stroke-width="0.3" textLength="122.60" lengthAdjust="spacingAndGlyphs">PC9T790M</text>
<text x="905.80" y="1019.30" font-size="16.4" stroke="#000" stroke-width="0.25" textLength="57.60" lengthAdjust="spacing">C797S</text>
</g>
<g id="chart3">
<path d="M213.9,1305.1 V1611.1 M213.9,1609.6 H726.8" fill="none" stroke="#000" stroke-width="3.0"/>
<text x="202.80" y="1618.10" font-size="23.8" font-weight="bold" text-anchor="end">0</text>
<text x="202.80" y="1517.10" font-size="23.8" font-weight="bold" text-anchor="end">20</text>
<text x="202.80" y="1416.10" font-size="23.8" font-weight="bold" text-anchor="end">40</text>
<text x="202.80" y="1315.10" font-size="23.8" font-weight="bold" text-anchor="end">60</text>
<path d="M204.9,1609.6 H213.9 M204.9,1508.6 H213.9 M204.9,1407.6 H213.9 M204.9,1306.6 H213.9 " fill="none" stroke="#000" stroke-width="3.0"/>
<text x="161.40" y="1542.80" font-size="27" stroke="#000" stroke-width="0.35" textLength="171.00" lengthAdjust="spacingAndGlyphs" transform="rotate(-90 161.40 1542.80)">dead cells (%)</text>
<path d="M230.6,1580.1 V1570.5 M225.0,1570.5 H236.2" fill="none" stroke="#000" stroke-width="2.9"/>
<rect x="220.8" y="1581.5" width="19.6" height="28.1" fill="#fff" stroke="#000" stroke-width="2.9"/>
<path d="M264.6,1380.8 V1369.7 M258.9,1369.7 H270.2" fill="none" stroke="#000" stroke-width="2.9"/>
<rect x="254.8" y="1382.3" width="19.6" height="227.3" fill="#a0a0a0" stroke="#000" stroke-width="2.9"/>
<path d="M319.6,1567.4 V1542.7 M313.9,1542.7 H325.2" fill="none" stroke="#000" stroke-width="2.9"/>
<rect x="309.8" y="1568.9" width="19.6" height="40.7" fill="#fff" stroke="#000" stroke-width="2.9"/>
<path d="M353.6,1583.6 V1560.9 M347.9,1560.9 H359.2" fill="none" stroke="#000" stroke-width="2.9"/>
<rect x="343.8" y="1585.0" width="19.6" height="24.6" fill="#a0a0a0" stroke="#000" stroke-width="2.9"/>
<path d="M408.6,1563.4 V1552.8 M402.9,1552.8 H414.2" fill="none" stroke="#000" stroke-width="2.9"/>
<rect x="398.8" y="1564.8" width="19.6" height="44.8" fill="#fff" stroke="#000" stroke-width="2.9"/>
<path d="M442.6,1421.2 V1410.1 M436.9,1410.1 H448.2" fill="none" stroke="#000" stroke-width="2.9"/>
<rect x="432.8" y="1422.7" width="19.6" height="186.9" fill="#a0a0a0" stroke="#000" stroke-width="2.9"/>
<path d="M497.6,1544.5 V1529.1 M491.9,1529.1 H503.2" fill="none" stroke="#000" stroke-width="2.9"/>
<rect x="487.8" y="1545.9" width="19.6" height="63.7" fill="#fff" stroke="#000" stroke-width="2.9"/>
<path d="M531.5,1561.9 V1546.2 M525.9,1546.2 H537.1" fill="none" stroke="#000" stroke-width="2.9"/>
<rect x="521.8" y="1563.3" width="19.6" height="46.3" fill="#a0a0a0" stroke="#000" stroke-width="2.9"/>
<path d="M586.5,1566.4 V1553.3 M580.9,1553.3 H592.1" fill="none" stroke="#000" stroke-width="2.9"/>
<rect x="576.8" y="1567.9" width="19.6" height="41.7" fill="#fff" stroke="#000" stroke-width="2.9"/>
<path d="M620.5,1578.0 V1570.5 M614.9,1570.5 H626.1" fill="none" stroke="#000" stroke-width="2.9"/>
<rect x="610.8" y="1579.5" width="19.6" height="30.1" fill="#a0a0a0" stroke="#000" stroke-width="2.9"/>
<path d="M675.5,1568.4 V1557.8 M669.9,1557.8 H681.1" fill="none" stroke="#000" stroke-width="2.9"/>
<rect x="665.8" y="1569.9" width="19.6" height="39.7" fill="#fff" stroke="#000" stroke-width="2.9"/>
<path d="M709.5,1568.4 V1557.8 M703.9,1557.8 H715.1" fill="none" stroke="#000" stroke-width="2.9"/>
<rect x="699.8" y="1569.9" width="19.6" height="39.7" fill="#a0a0a0" stroke="#000" stroke-width="2.9"/>
<text x="264.40" y="1366.40" font-size="25.5" stroke="#000" stroke-width="0.3" text-anchor="middle" textLength="42.50" lengthAdjust="spacingAndGlyphs">****</text>
<text x="442.60" y="1408.40" font-size="25.5" stroke="#000" stroke-width="0.3" text-anchor="middle" textLength="42.50" lengthAdjust="spacingAndGlyphs">****</text>
<text transform="translate(254.0 1640.2) rotate(-45)" x="0" y="0" font-size="24.8" font-weight="bold" text-anchor="end" textLength="47.9" lengthAdjust="spacingAndGlyphs">PC9</text>
<g transform="translate(343.0 1640.2) rotate(-45)"><text x="-107.5" y="0" font-size="24.8" font-weight="bold" text-anchor="end" textLength="47.9" lengthAdjust="spacingAndGlyphs">PC9</text><text x="-107.5" y="-14.2" font-size="17.2" stroke="#000" stroke-width="0.25" textLength="107.0" lengthAdjust="spacing">BRAFG469A</text></g>
<text transform="translate(432.0 1640.2) rotate(-45)" x="0" y="0" font-size="24.8" font-weight="bold" text-anchor="end" textLength="124.5" lengthAdjust="spacingAndGlyphs">PC9T790M</text>
<g transform="translate(521.0 1640.2) rotate(-45)"><text x="-26.8" y="0" font-size="24.8" font-weight="bold" text-anchor="end" textLength="124.5" lengthAdjust="spacingAndGlyphs">PC9T790M</text><text x="-26.8" y="-14.2" font-size="17.2" stroke="#000" stroke-width="0.25" textLength="26.3" lengthAdjust="spacing">clA</text></g>
<g transform="translate(610.0 1640.2) rotate(-45)"><text x="-26.8" y="0" font-size="24.8" font-weight="bold" text-anchor="end" textLength="124.5" lengthAdjust="spacingAndGlyphs">PC9T790M</text><text x="-26.8" y="-14.2" font-size="17.2" stroke="#000" stroke-width="0.25" textLength="26.3" lengthAdjust="spacing">clC</text></g>
<g transform="translate(699.0 1640.2) rotate(-45)"><text x="-56.8" y="0" font-size="24.8" font-weight="bold" text-anchor="end" textLength="124.5" lengthAdjust="spacingAndGlyphs">PC9T790M</text><text x="-56.8" y="-14.2" font-size="17.2" stroke="#000" stroke-width="0.25" textLength="56.3" lengthAdjust="spacing">C797S</text></g>
<rect x="795.3" y="1320.4" width="30.0" height="13.8" fill="#fff" stroke="#000" stroke-width="2.8"/>
<rect x="795.3" y="1361.8" width="30.0" height="13.8" fill="#a0a0a0" stroke="#000" stroke-width="2.8"/>
<text x="843.80" y="1334.80" font-size="24.4" stroke="#000" stroke-width="0.3" textLength="33.60" lengthAdjust="spacingAndGlyphs">ctrl</text>
<text x="843.80" y="1375.40" font-size="24.4" stroke="#000" stroke-width="0.3" textLength="119.40" lengthAdjust="spacingAndGlyphs">osimertinib</text>
</g>
</svg>
</body>
</html>
